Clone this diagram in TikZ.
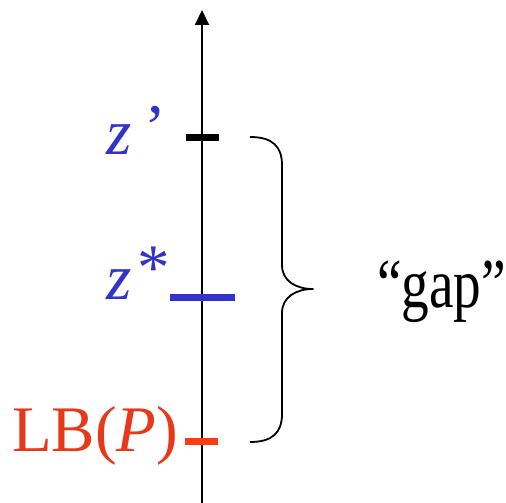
\documentclass[tikz,border=0pt]{standalone}
\usepackage{fontspec}
\usepackage{graphicx}
\setmainfont{Liberation Serif}
\usetikzlibrary{arrows.meta}
\definecolor{zblue}{RGB}{51,51,204}
\definecolor{lbred}{RGB}{230,56,26}
\definecolor{tickred}{RGB}{250,60,20}
\tikzset{
  lbl/.style={inner sep=0pt, font=\fontsize{65}{70}\selectfont},
  tickmark/.style={line width=7pt},
  axisline/.style={line width=2pt, -{Triangle[width=14pt,length=15pt]}},
  bracestyle/.style={line width=1.8pt, line join=round}
}
\begin{document}
\begin{tikzpicture}[x=1pt,y=-1pt]
\useasboundingbox (0,0) rectangle (506,503);
% axis
\coordinate (axb) at (202,503);
\coordinate (axt) at (202,10);
\draw[axisline] (axb) -- (axt);
% ticks
\coordinate (t1a) at (186,137); \coordinate (t1b) at (219,137);
\coordinate (t2a) at (170,297); \coordinate (t2b) at (235,297);
\coordinate (t3a) at (185,441); \coordinate (t3b) at (218,441);
\draw[tickmark, black] (t1a) -- (t1b);
\draw[tickmark, zblue] (t2a) -- (t2b);
\draw[tickmark, tickred] (t3a) -- (t3b);
% labels
\node[lbl, text=zblue, anchor=base west] (zp) at (106,154) {\textit{z}\hspace{13pt}\raisebox{5pt}{’}};
\node[lbl, text=zblue, anchor=base west] (zs) at (106,299) {\textit{z}\hspace{6pt}\raisebox{10pt}{*}};
\node[lbl, text=lbred, anchor=base west] (lb) at (12,451) {LB(\textit{P})};
\node[lbl, anchor=base west, font=\fontsize{70}{74}\selectfont] (gap) at (377,307) {\scalebox{0.79}[1]{“gap”}};
% brace
\coordinate (bt) at (250,137);
\coordinate (bm) at (313,289);
\coordinate (bb) at (250,442);
\draw[bracestyle] (bt) .. controls (272,137) and (282,146) .. (282,165)
  -- (282,265) .. controls (282,281) and (296,289) .. (bm)
  .. controls (296,289) and (282,297) .. (282,313)
  -- (282,414) .. controls (282,433) and (272,442) .. (bb);
\end{tikzpicture}
\end{document}
